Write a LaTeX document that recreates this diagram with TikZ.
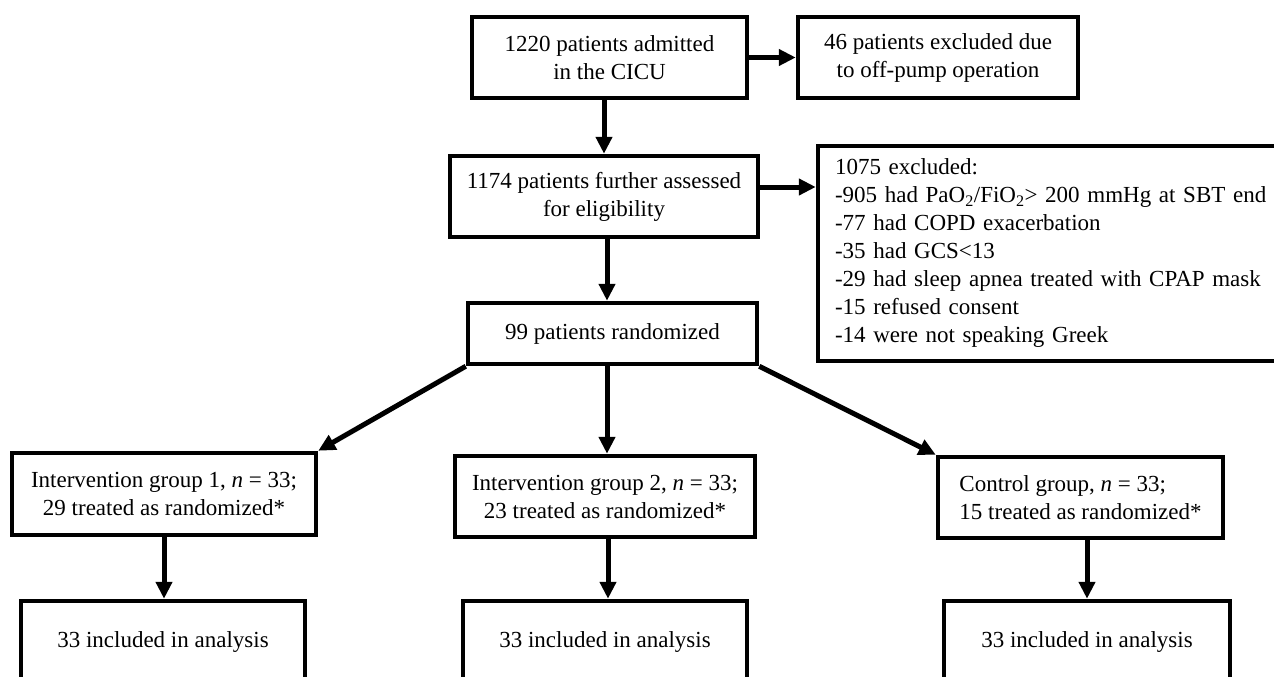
\documentclass[tikz,border=0pt]{standalone}
\usepackage{fontspec}
\setmainfont{Liberation Serif}
\usetikzlibrary{arrows.meta}
\begin{document}
\begin{tikzpicture}[x=1pt,y=-1pt,
  box/.style={draw=black, line width=4.5pt, fill=white, align=center, inner sep=0pt,
              font=\fontsize{23}{28}\selectfont},
  arr/.style={line width=5pt, -{Triangle[length=17pt,width=16pt]}}]
\useasboundingbox (0,0) rectangle (1274,677);
\clip (0,0) rectangle (1274,677);
\fill[white] (0,0) rectangle (1274,677);

\node[box, minimum width=275pt, minimum height=81pt] (b1) at (609.5,57.5)
  {1220 patients admitted\\in the CICU};
\node[box, minimum width=280pt, minimum height=81pt] (b46) at (938,57.5)
  {46 patients excluded due\\to off-pump operation};
\node[box, minimum width=308pt, minimum height=81pt] (b2) at (604,196.5)
  {1174 patients further assessed\\for eligibility};
\node[box, minimum width=472pt, minimum height=215pt, align=left, text width=438pt, inner xsep=17pt] (bex) at (1054,253.5)
  {1075 excluded:\\
   -905 had PaO\textsubscript{2}/FiO\textsubscript{2}> 200 mmHg at SBT end\\
   -77 had COPD exacerbation\\
   -35 had GCS<13\\
   -29 had sleep apnea treated with CPAP mask\\
   -15 refused consent\\
   -14 were not speaking Greek};
\node[box, minimum width=289pt, minimum height=61pt] (b3) at (612.5,333.5)
  {99 patients randomized};

\node[box, minimum width=304pt, minimum height=82pt] (g1) at (164,494)
  {Intervention group 1, \textit{n} = 33;\\29 treated as randomized*};
\node[box, minimum width=300pt, minimum height=81pt] (g2) at (605,496.5)
  {Intervention group 2, \textit{n} = 33;\\23 treated as randomized*};
\node[box, minimum width=285pt, minimum height=81pt, align=left] (g3) at (1080.5,497.5)
  {Control group, \textit{n} = 33;\\15 treated as randomized*};

\node[box, minimum width=284pt, minimum height=82pt] (a1) at (163,642)
  {33 included in analysis};
\node[box, minimum width=284pt, minimum height=82pt] (a2) at (605,642)
  {33 included in analysis};
\node[box, minimum width=286pt, minimum height=82pt] (a3) at (1087,642)
  {33 included in analysis};

\draw[arr] (b1.east) -- (b46.west);
\draw[arr] (b2.north |- b1.south) -- (b2.north);
\draw[arr] ([yshift=9.5pt]b2.east) -- ([yshift=9.5pt]b2.east -| bex.west);
\draw[arr] ([xshift=3pt]b2.south) -- ([xshift=3pt]b2.south |- b3.north);
\draw[arr] (b3.south west) -- (g1.north east);
\draw[arr] ([xshift=2pt]g2.north |- b3.south) -- ([xshift=2pt]g2.north);
\draw[arr] (b3.south east) -- (g3.north west);
\draw[arr] (g1.south) -- (g1.south |- a1.north);
\draw[arr] ([xshift=3pt]g2.south) -- ([xshift=3pt]g2.south |- a2.north);
\draw[arr] (a3.north |- g3.south) -- (a3.north);
\end{tikzpicture}
\end{document}
